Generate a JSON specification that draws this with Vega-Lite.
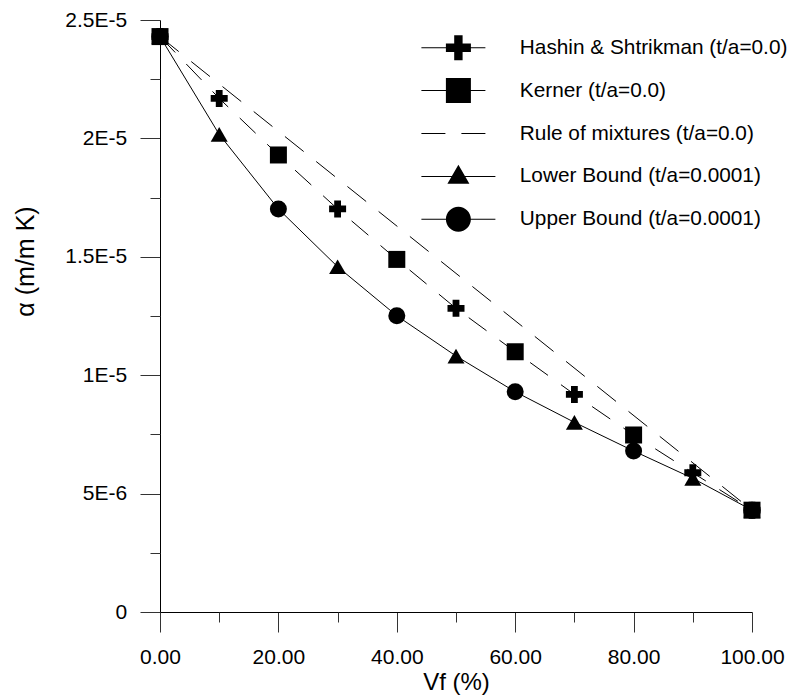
{
  "$schema": "https://vega.github.io/schema/vega-lite/v6.json",
  "autosize": {"type": "none"},
  "padding": {"left": 160, "top": 20, "right": 48, "bottom": 88},
  "width": 592,
  "height": 592,
  "config": {
    "font": "Liberation Sans",
    "view": {"stroke": null},
    "axis": {"grid": false, "labelColor": "black", "titleColor": "black", "titleFontWeight": "normal", "domainColor": "black", "tickColor": "#333", "labelFlush": false, "labelOverlap": false}
  },
  "data": {
    "values": [
      {"series": "Lower Bound (t/a=0.0001)", "vf": 0, "alpha": 0.0000243},
      {"series": "Lower Bound (t/a=0.0001)", "vf": 10, "alpha": 0.00002017},
      {"series": "Lower Bound (t/a=0.0001)", "vf": 30, "alpha": 0.00001458},
      {"series": "Lower Bound (t/a=0.0001)", "vf": 50, "alpha": 0.00001081},
      {"series": "Lower Bound (t/a=0.0001)", "vf": 70, "alpha": 0.00000801},
      {"series": "Lower Bound (t/a=0.0001)", "vf": 90, "alpha": 0.000005645},
      {"series": "Lower Bound (t/a=0.0001)", "vf": 100, "alpha": 0.0000043},
      {"series": "Upper Bound (t/a=0.0001)", "vf": 0, "alpha": 0.0000243},
      {"series": "Upper Bound (t/a=0.0001)", "vf": 20, "alpha": 0.00001702},
      {"series": "Upper Bound (t/a=0.0001)", "vf": 40, "alpha": 0.00001251},
      {"series": "Upper Bound (t/a=0.0001)", "vf": 60, "alpha": 0.0000093},
      {"series": "Upper Bound (t/a=0.0001)", "vf": 80, "alpha": 0.0000068},
      {"series": "Upper Bound (t/a=0.0001)", "vf": 100, "alpha": 0.0000043},
      {"series": "Hashin & Shtrikman (t/a=0.0)", "vf": 0, "alpha": 0.0000243},
      {"series": "Hashin & Shtrikman (t/a=0.0)", "vf": 10, "alpha": 0.00002169},
      {"series": "Hashin & Shtrikman (t/a=0.0)", "vf": 30, "alpha": 0.00001702},
      {"series": "Hashin & Shtrikman (t/a=0.0)", "vf": 50, "alpha": 0.000012825},
      {"series": "Hashin & Shtrikman (t/a=0.0)", "vf": 70, "alpha": 0.00000919},
      {"series": "Hashin & Shtrikman (t/a=0.0)", "vf": 90, "alpha": 0.00000588},
      {"series": "Hashin & Shtrikman (t/a=0.0)", "vf": 100, "alpha": 0.0000043},
      {"series": "Kerner (t/a=0.0)", "vf": 0, "alpha": 0.0000243},
      {"series": "Kerner (t/a=0.0)", "vf": 20, "alpha": 0.0000193},
      {"series": "Kerner (t/a=0.0)", "vf": 40, "alpha": 0.00001489},
      {"series": "Kerner (t/a=0.0)", "vf": 60, "alpha": 0.00001099},
      {"series": "Kerner (t/a=0.0)", "vf": 80, "alpha": 0.000007475},
      {"series": "Kerner (t/a=0.0)", "vf": 100, "alpha": 0.0000043},
      {"series": "Rule of mixtures (t/a=0.0)", "vf": 0, "alpha": 0.0000243},
      {"series": "Rule of mixtures (t/a=0.0)", "vf": 100, "alpha": 0.0000043}
    ]
  },
  "resolve": {"scale": {"shape": "independent"}, "axis": {"x": "independent", "y": "independent"}},
  "layer": [
    {
      "transform": [{"filter": "datum.series === 'Hashin & Shtrikman (t/a=0.0)' || datum.series === 'Kerner (t/a=0.0)'"}],
      "mark": {"type": "line", "color": "black", "strokeWidth": 1, "strokeDash": [22, 16]},
      "encoding": {
        "x": {
          "field": "vf", "type": "quantitative",
          "scale": {"domain": [0, 100], "nice": false},
          "axis": {
            "orient": "bottom", "values": [0, 20, 40, 60, 80, 100], "format": ".2f",
            "tickSize": 20, "labelPadding": 14.7, "labelFontSize": 21,
            "title": "Vf (%)", "titleFontSize": 24, "titleY": 77, "titleBaseline": "alphabetic"
          }
        },
        "y": {
          "field": "alpha", "type": "quantitative",
          "scale": {"domain": [0, 0.000025], "nice": false},
          "axis": {
            "orient": "left", "values": [0, 0.000005, 0.00001, 0.000015, 0.00002, 0.000025],
            "labelExpr": "datum.value === 0 ? '0' : replace(format(datum.value, '.2~e'), 'e', 'E')",
            "tickSize": 20, "labelPadding": 13.3, "labelFontSize": 21,
            "title": "α (m/m K)", "titleFontSize": 25, "titleAngle": -90,
            "titleX": -135, "titleY": 241, "titleBaseline": "middle", "titleAlign": "center"
          }
        }
      }
    },
    {
      "transform": [{"filter": "datum.series === 'Lower Bound (t/a=0.0001)' || datum.series === 'Upper Bound (t/a=0.0001)'"}],
      "mark": {"type": "line", "color": "black", "strokeWidth": 1},
      "encoding": {
        "x": {"field": "vf", "type": "quantitative", "axis": null},
        "y": {"field": "alpha", "type": "quantitative", "axis": null}
      }
    },
    {
      "transform": [{"filter": "datum.series === 'Rule of mixtures (t/a=0.0)'"}],
      "mark": {"type": "line", "color": "black", "strokeWidth": 1, "strokeDash": [24, 16]},
      "encoding": {
        "x": {"field": "vf", "type": "quantitative", "axis": null},
        "y": {"field": "alpha", "type": "quantitative", "axis": null}
      }
    },
    {
      "transform": [{"filter": "datum.series !== 'Rule of mixtures (t/a=0.0)'"}],
      "mark": {"type": "point", "filled": true, "color": "black", "opacity": 1, "size": 289},
      "encoding": {
        "x": {
          "field": "vf", "type": "quantitative",
          "axis": {"orient": "bottom", "values": [10, 30, 50, 70, 90], "tickSize": 10, "labels": false, "domain": false, "title": null}
        },
        "y": {
          "field": "alpha", "type": "quantitative",
          "axis": {"orient": "left", "values": [0.0000025, 0.0000075, 0.0000125, 0.0000175, 0.0000225], "tickSize": 10, "labels": false, "domain": false, "title": null}
        },
        "shape": {
          "field": "series", "type": "nominal",
          "scale": {
            "domain": ["Hashin & Shtrikman (t/a=0.0)", "Kerner (t/a=0.0)", "Lower Bound (t/a=0.0001)", "Upper Bound (t/a=0.0001)"],
            "range": ["cross", "square", "triangle-up", "circle"]
          },
          "legend": null
        }
      }
    },
    {
      "transform": [{"filter": "false"}],
      "mark": {"type": "point", "filled": true, "color": "black", "opacity": 1},
      "encoding": {
        "x": {"field": "vf", "type": "quantitative", "axis": null},
        "y": {"field": "alpha", "type": "quantitative", "axis": null},
        "shape": {
          "field": "series", "type": "nominal",
          "scale": {
            "domain": ["Hashin & Shtrikman (t/a=0.0)", "Kerner (t/a=0.0)", "Rule of mixtures (t/a=0.0)", "Lower Bound (t/a=0.0001)", "Upper Bound (t/a=0.0001)"],
            "range": [
              "M-37,-0.5H27V0.5H-37ZM-4.2,-12.5H4.2V-4.2H12.5V4.2H4.2V12.5H-4.2V4.2H-12.5V-4.2H-4.2Z",
              "M-37,-0.5H27V0.5H-37ZM-12.5,-12.5H12.5V12.5H-12.5Z",
              "M-37,-0.5H-13V0.5H-37ZM3,-0.5H27V0.5H3Z",
              "M-37,-0.5H37V0.5H-37ZM0,-11.7L11,7.3H-11Z",
              "M-37,-0.5H37V0.5H-37ZM12.5,0A12.5,12.5,0,1,1,-12.5,0A12.5,12.5,0,1,1,12.5,0Z"
            ]
          },
          "legend": {
            "title": null, "orient": "none", "legendX": 288, "legendY": 17.3,
            "padding": 0, "symbolSize": 4, "symbolOffset": 0, "labelOffset": 51,
            "symbolFillColor": "black", "symbolOpacity": 1,
            "labelFontSize": 20.8, "labelFont": "Liberation Sans", "labelLimit": 0, "labelColor": "black",
            "rowPadding": 10.9, "gridAlign": "all"
          }
        }
      }
    }
  ]
}
